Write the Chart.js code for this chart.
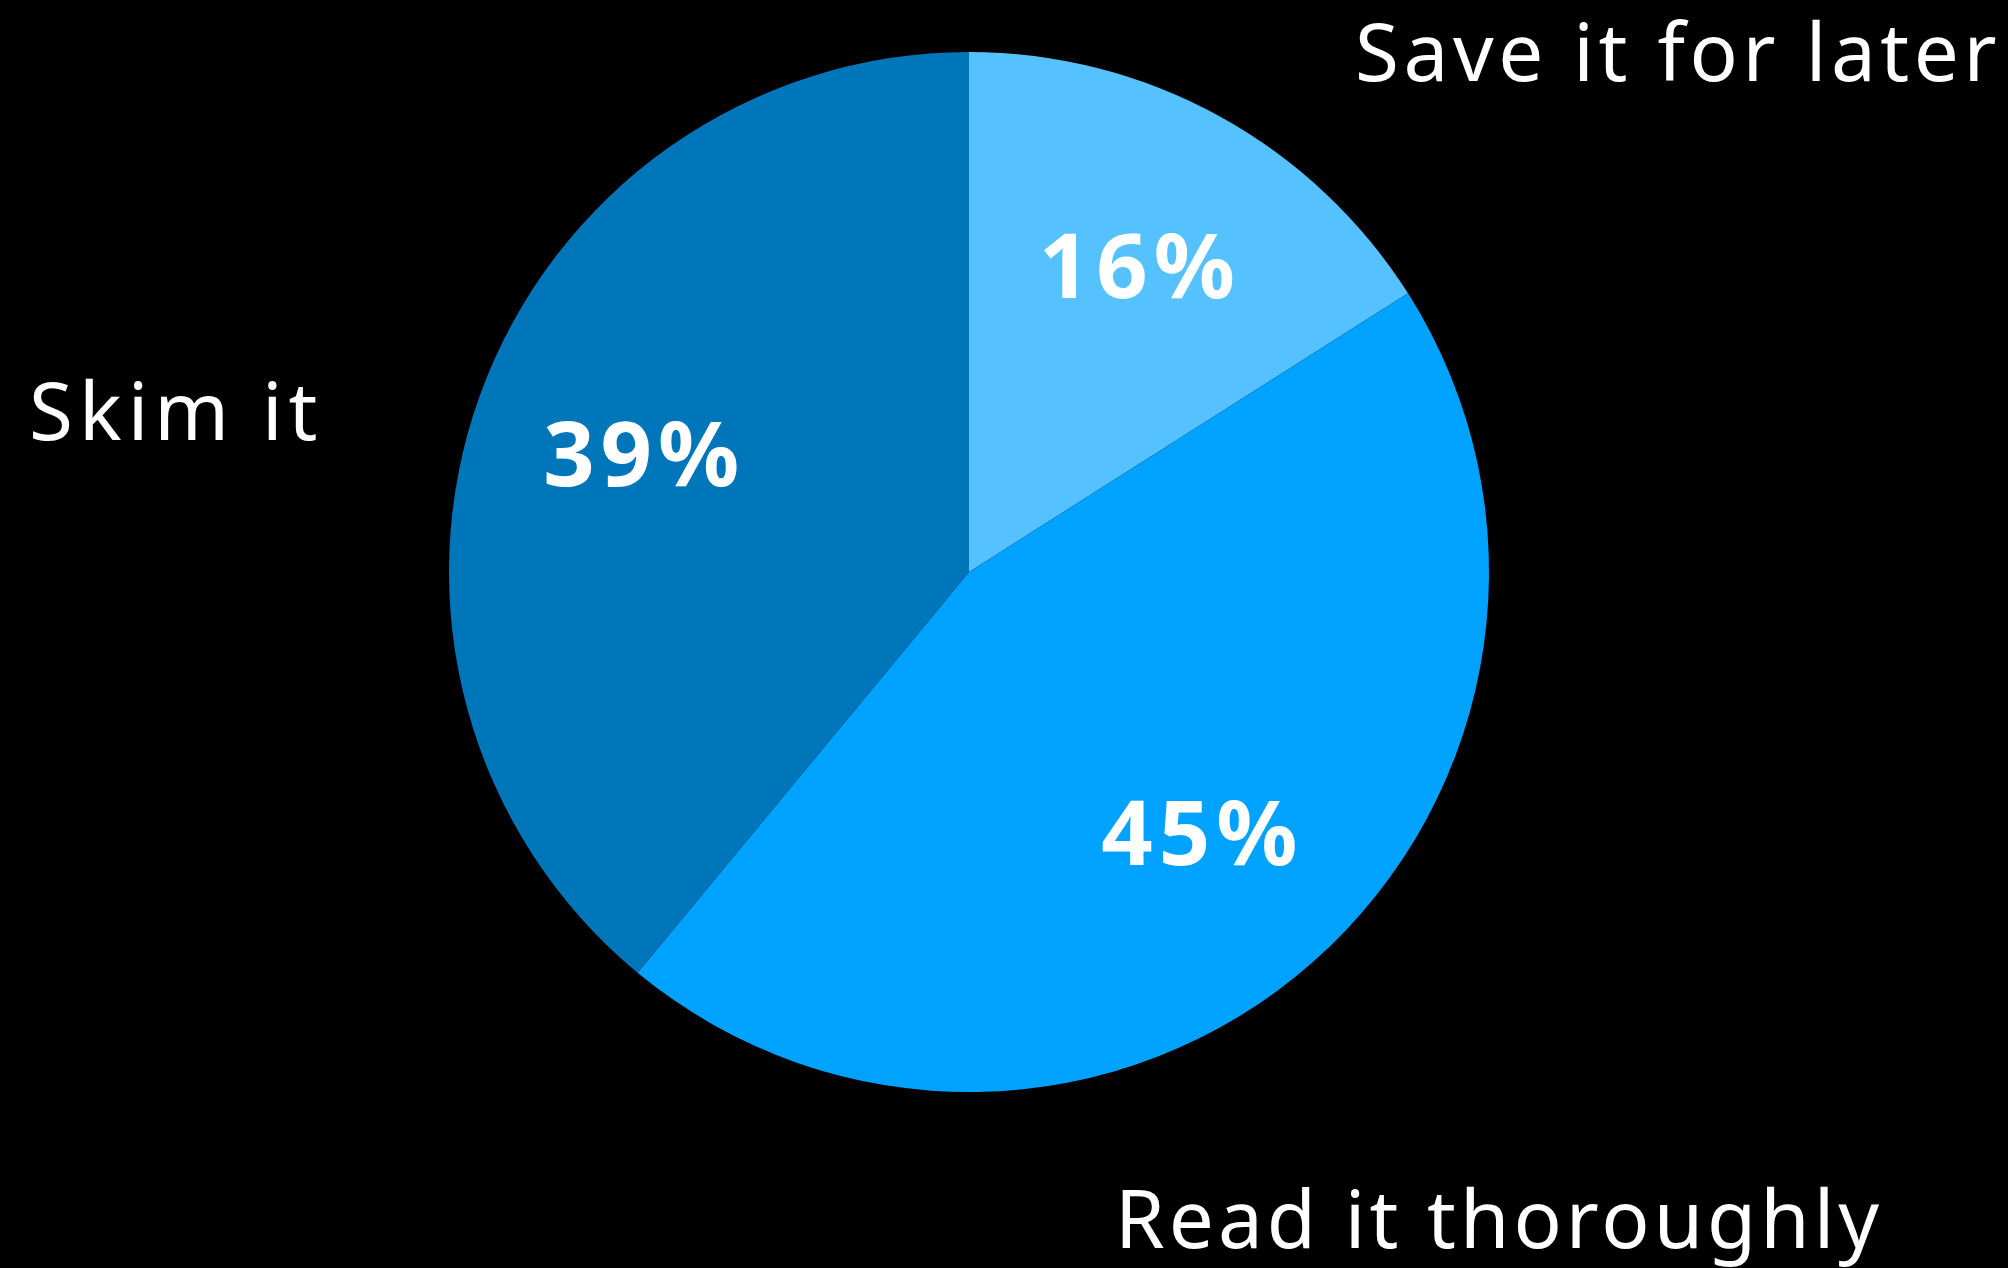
<!DOCTYPE html>
<html>
<head>
<meta charset="utf-8">
<script src="https://cdn.jsdelivr.net/npm/chart.js@4"></script>
<style>
  html, body { margin:0; padding:0; background:#000; }
  #wrap { width:2008px; height:1268px; position:relative; }
</style>
</head>
<body>
<div id="wrap"><canvas id="pie"></canvas></div>
<script>
// ===== data =====
const categories = ['Save it for later', 'Read it thoroughly', 'Skim it'];
const values     = [16, 45, 39];
const colors     = ['#56C1FF', '#00A2FF', '#0076BA'];

// where the category names sit (left x, baseline y)
const nameSpots = [
  { x:1355, y:81,   spacing:'4.6px' },
  { x:1115, y:1248, spacing:'4px' },
  { x:29,   y:440,  spacing:'6px' }
];

// ===== labels plugin =====
const sliceLabels = {
  id: 'sliceLabels',
  afterDatasetsDraw(chart) {
    const ctx = chart.ctx;
    const meta = chart.getDatasetMeta(0);
    ctx.save();
    ctx.fillStyle = '#fff';

    // percentages inside slices
    ctx.font = 'bold 90px "Noto Sans", "Liberation Sans", sans-serif';
    ctx.letterSpacing = '6px';
    ctx.textAlign = 'center';
    ctx.textBaseline = 'middle';
    meta.data.forEach((arc, i) => {
      const { x, y, startAngle, endAngle, outerRadius } = arc.getProps(['x','y','startAngle','endAngle','outerRadius'], true);
      const mid = (startAngle + endAngle) / 2;
      const r = outerRadius * 0.67;
      ctx.fillText(values[i] + '%', x + Math.cos(mid) * r + 3, y + Math.sin(mid) * r + 6);
    });

    // category names outside
    ctx.font = '80px "Noto Sans", "Liberation Sans", sans-serif';
    ctx.textAlign = 'left';
    ctx.textBaseline = 'alphabetic';
    categories.forEach((name, i) => {
      const p = nameSpots[i];
      ctx.letterSpacing = p.spacing;
      ctx.fillText(name, p.x, p.y);
    });
    ctx.restore();
  }
};

new Chart(document.getElementById('pie'), {
  type: 'pie',
  data: {
    labels: categories,
    datasets: [{ data: values, backgroundColor: colors, borderWidth: 0 }]
  },
  options: {
    responsive: true,
    maintainAspectRatio: false,
    animation: false,
    layout: { padding: { left:449, right:519, top:52, bottom:176 } },
    plugins: { legend: { display:false }, tooltip: { enabled:false } }
  },
  plugins: [sliceLabels]
});
</script>
</body>
</html>
